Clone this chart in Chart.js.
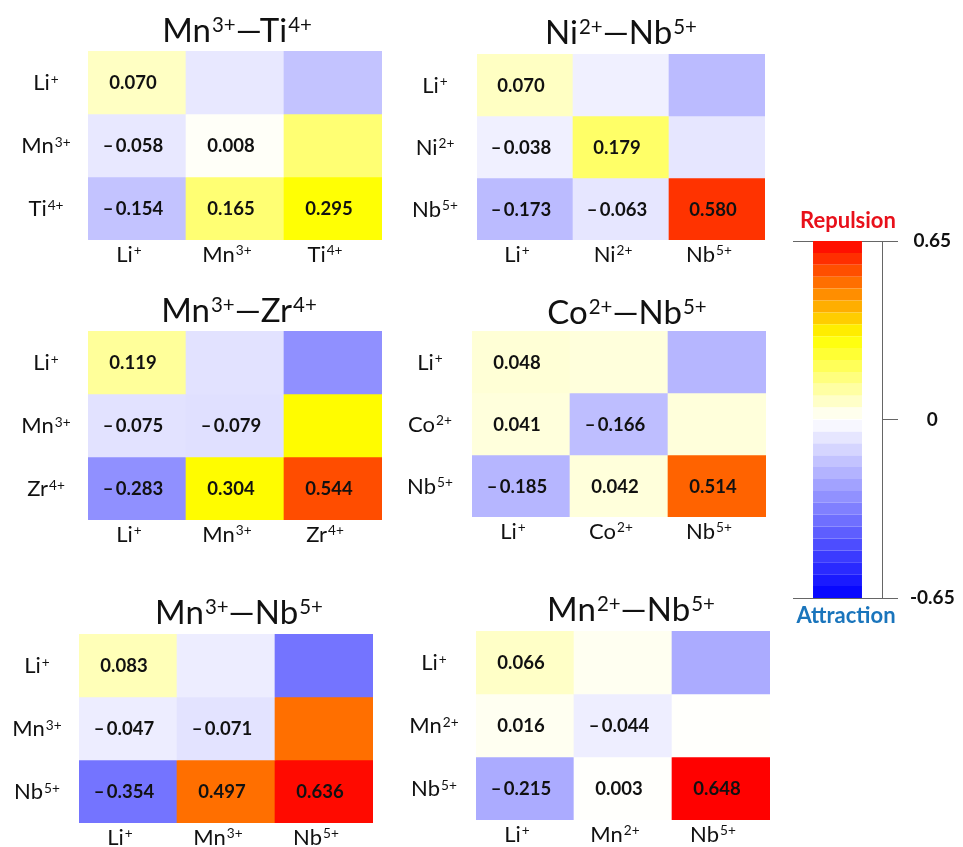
<!DOCTYPE html>
<html>

<head>
    <title>Ion pair interaction maps</title>
    <script src="https://cdn.jsdelivr.net/npm/chart.js@4.4.1/dist/chart.umd.min.js"></script>
    <style>
        body { margin: 0; background: #fff; }
        #figure { position: relative; width: 963px; height: 847px; overflow: hidden; }
        #figure canvas { position: absolute; }
    </style>
</head>

<body>
    <div id="figure"></div>
    <script>
        // panel titles and ion labels (rows top->bottom, columns left->right)
        const titles = ['Mn³⁺—Ti⁴⁺', 'Ni²⁺—Nb⁵⁺', 'Mn³⁺—Zr⁴⁺', 'Co²⁺—Nb⁵⁺', 'Mn³⁺—Nb⁵⁺', 'Mn²⁺—Nb⁵⁺'];
        const ions = [
            ['Li⁺', 'Mn³⁺', 'Ti⁴⁺'],
            ['Li⁺', 'Ni²⁺', 'Nb⁵⁺'],
            ['Li⁺', 'Mn³⁺', 'Zr⁴⁺'],
            ['Li⁺', 'Co²⁺', 'Nb⁵⁺'],
            ['Li⁺', 'Mn³⁺', 'Nb⁵⁺'],
            ['Li⁺', 'Mn²⁺', 'Nb⁵⁺']
        ];

        // lower triangles, the upper half is the mirror
        const mnTi = [[0.070], [-0.058, 0.008], [-0.154, 0.165, 0.295]];
        const niNb = [[0.070], [-0.038, 0.179], [-0.173, -0.063, 0.580]];
        const mnZr = [[0.119], [-0.075, -0.079], [-0.283, 0.304, 0.544]];
        const coNb = [[0.048], [0.041, -0.166], [-0.185, 0.042, 0.514]];
        const mn3Nb = [[0.083], [-0.047, -0.071], [-0.354, 0.497, 0.636]];
        const mn2Nb = [[0.066], [0.016, -0.044], [-0.215, 0.003, 0.648]];
        const matrices = [mnTi, niNb, mnZr, coNb, mn3Nb, mn2Nb];

        const scaleTicks = [-0.65, 0, 0.65];

        const FONT = "Lato, 'Noto Sans', sans-serif";

        // grid left, top, width, height, title dx, title dy
        const boxes = [
            [88, 51, 294, 189, 2, 21],
            [477, 54, 288, 186, 0, 22],
            [88, 331, 294, 189, 4, 21],
            [472, 331, 294, 186, 8, 19],
            [79, 634, 294, 189, 13, 22],
            [476, 631, 294, 189, 8, 22]
        ];

        function heatColor(v) {
            let r, g, b;
            if (v >= 0) {
                if (v <= 0.3) {
                    r = 255; g = 255; b = 255 * (1 - v / 0.3);
                } else {
                    r = 255; g = Math.max(0, 255 * (0.65 - v) / 0.35); b = 0;
                }
            } else {
                const t = Math.min(1, -v / 0.65);
                r = 255 * (1 - t); g = r; b = 255;
            }
            return `rgb(${Math.round(r)},${Math.round(g)},${Math.round(b)})`;
        }

        function fmt(v) {
            return v < 0 ? '–\u2009' + Math.abs(v).toFixed(3) : v.toFixed(3);
        }

        // split "Mn³⁺" into normal and superscript runs so they can be drawn at two sizes
        const SUP = '⁰¹²³⁴⁵⁶⁷⁸⁹⁺';
        const PLAIN = '0123456789+';
        function runs(text) {
            const out = [];
            for (const ch of text) {
                const k = SUP.indexOf(ch);
                const sup = k >= 0;
                const c = sup ? PLAIN[k] : ch;
                const last = out[out.length - 1];
                if (last && last.sup === sup) last.t += c;
                else out.push({ t: c, sup: sup });
            }
            return out;
        }

        function drawRich(ctx, text, cx, cy, size) {
            const parts = runs(text);
            const supSize = size * 0.62;
            let total = 0;
            parts.forEach(p => {
                ctx.font = `${p.sup ? supSize : size}px ${FONT}`;
                p.w = ctx.measureText(p.t).width + (p.sup ? 1 : 0);
                total += p.w;
            });
            const base = cy + 0.36 * size;
            let x = cx - total / 2;
            ctx.textAlign = 'left';
            ctx.textBaseline = 'alphabetic';
            parts.forEach(p => {
                ctx.font = `${p.sup ? supSize : size}px ${FONT}`;
                ctx.fillText(p.t, p.sup ? x + 1 : x, p.sup ? base - 0.3 * size : base);
                x += p.w;
            });
        }

        const fig = document.getElementById('figure');

        function addCanvas(left, top, w, h) {
            const c = document.createElement('canvas');
            c.width = w;
            c.height = h;
            c.style.left = left + 'px';
            c.style.top = top + 'px';
            fig.appendChild(c);
            return c;
        }

        function heatmap(i) {
            const [gl, gt, gw, gh, tdx, tdy] = boxes[i];
            const vals = matrices[i];
            const cell = (r, c) => r >= c ? vals[r][c] : vals[c][r];
            const canvas = addCanvas(gl - 80, gt - 50, gw + 90, gh + 90);

            const datasets = [0, 1, 2].map(r => ({
                data: [0, 1, 2].map(() => [r, r + 1]),
                backgroundColor: [0, 1, 2].map(c => heatColor(cell(r, c))),
                borderWidth: 0,
                grouped: false,
                barPercentage: 1,
                categoryPercentage: 1
            }));

            const panelText = {
                id: 'panelText',
                afterDraw(chart) {
                    const a = chart.chartArea;
                    const xs = chart.scales.x, ys = chart.scales.y;
                    const ctx = chart.ctx;
                    ctx.save();
                    ctx.fillStyle = '#111';
                    drawRich(ctx, titles[i], (a.left + a.right) / 2 + tdx, a.top - tdy, 33);
                    ions[i].forEach((lab, k) => {
                        drawRich(ctx, lab, a.left - 42, ys.getPixelForValue(k + 0.5), 22);
                        drawRich(ctx, lab, xs.getPixelForTick(k) - 8, a.bottom + 14, 22);
                    });
                    ctx.font = `bold 18.5px ${FONT}`;
                    ctx.textAlign = 'center';
                    ctx.textBaseline = 'middle';
                    for (let r = 0; r < 3; r++) {
                        const meta = chart.getDatasetMeta(r);
                        for (let c = 0; c <= r; c++) {
                            const bar = meta.data[c];
                            ctx.fillText(fmt(vals[r][c]), bar.x - 4, (bar.y + bar.base) / 2 + 1);
                        }
                    }
                    ctx.restore();
                }
            };

            new Chart(canvas, {
                type: 'bar',
                data: { labels: ions[i], datasets: datasets },
                options: {
                    responsive: false,
                    animation: false,
                    layout: { padding: { top: 50, right: 10 } },
                    plugins: { legend: { display: false }, tooltip: { enabled: false } },
                    scales: {
                        x: {
                            grid: { display: false, drawTicks: false },
                            border: { display: false },
                            ticks: { display: false },
                            afterFit: s => { s.height = 40; }
                        },
                        y: {
                            min: 0,
                            max: 3,
                            reverse: true,
                            grid: { display: false, drawTicks: false },
                            border: { display: false },
                            ticks: { display: false },
                            afterFit: s => { s.width = 80; }
                        }
                    }
                },
                plugins: [panelText]
            });
        }

        for (let i = 0; i < 6; i++) heatmap(i);

        // colour scale: 15 steps on each side of zero
        function colorBar() {
            const canvas = addCanvas(793, 200, 162, 440);
            const top = scaleTicks[2], steps = 15, h = top / steps;
            const datasets = [];
            for (let k = 0; k < steps; k++) {
                datasets.push({ data: [[k * h, (k + 1) * h]], backgroundColor: heatColor((k + 0.5) * h) });
                datasets.push({ data: [[-(k + 1) * h, -k * h]], backgroundColor: heatColor(-(k + 0.5) * h) });
            }
            datasets.forEach(d => Object.assign(d, { borderWidth: 0, grouped: false, barPercentage: 0.55, categoryPercentage: 1 }));

            const words = {
                id: 'words',
                afterDraw(chart) {
                    const a = chart.chartArea;
                    const ctx = chart.ctx;
                    ctx.save();
                    ctx.font = `bold 22px ${FONT}`;
                    ctx.textAlign = 'center';
                    ctx.textBaseline = 'middle';
                    ctx.fillStyle = '#e8101a';
                    ctx.fillText('Repulsion', a.left + 55, a.top - 20);
                    ctx.fillStyle = '#1a75bc';
                    ctx.fillText('Attraction', a.left + 53, a.bottom + 18);
                    ctx.restore();
                }
            };

            new Chart(canvas, {
                type: 'bar',
                data: { labels: [''], datasets: datasets },
                options: {
                    responsive: false,
                    animation: false,
                    layout: { padding: { top: 41, bottom: 42 } },
                    plugins: { legend: { display: false }, tooltip: { enabled: false } },
                    scales: {
                        x: { display: false },
                        y: {
                            position: 'right',
                            min: scaleTicks[0],
                            max: scaleTicks[2],
                            z: 1,
                            afterBuildTicks: s => { s.ticks = scaleTicks.map(v => ({ value: v })); },
                            grid: {
                                color: c => (c.tick && c.tick.value === 0) ? 'rgba(0,0,0,0)' : '#666',
                                tickColor: '#666',
                                tickLength: 16
                            },
                            border: { display: true, color: '#666' },
                            ticks: {
                                callback: v => v === 0 ? '0' : v.toFixed(2),
                                crossAlign: 'center',
                                padding: 12,
                                font: { family: FONT, size: 19, weight: 'bold' },
                                color: '#111'
                            },
                            afterFit: s => { s.width = 73; }
                        }
                    }
                },
                plugins: [words]
            });
        }

        colorBar();
    </script>
</body>

</html>
